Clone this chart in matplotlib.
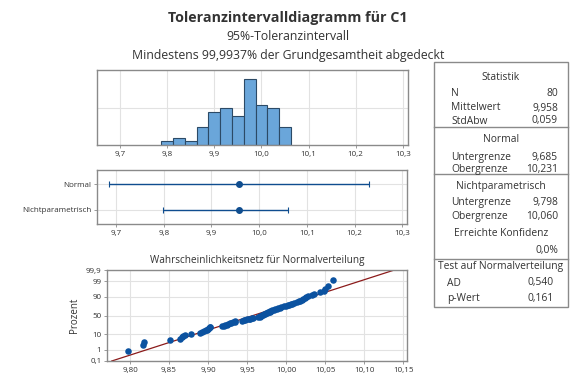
import statistics

import matplotlib
matplotlib.use("Agg")
import matplotlib.pyplot as plt
import numpy as np
from matplotlib.ticker import FuncFormatter

plt.rcParams['font.family'] = ['Open Sans', 'DejaVu Sans']

c1 = [9.798,
      9.817, 9.818,
      9.851,
      9.864, 9.866, 9.868, 9.871, 9.878,
      9.890, 9.892, 9.895, 9.897, 9.899, 9.900, 9.901, 9.902, 9.903,
      9.918, 9.920, 9.922, 9.924, 9.926, 9.928, 9.930, 9.932, 9.934, 9.935,
      9.944, 9.946, 9.948, 9.950, 9.952, 9.954, 9.956, 9.958,
      9.964, 9.966, 9.967, 9.968, 9.969, 9.970, 9.972, 9.973, 9.974,
      9.976, 9.977, 9.978, 9.979, 9.980, 9.981, 9.982, 9.984, 9.986,
      9.988, 9.990, 9.992, 9.994, 9.997, 10.000, 10.002, 10.004, 10.006, 10.008, 10.010,
      10.014, 10.016, 10.018, 10.020, 10.022, 10.024, 10.026, 10.028, 10.033, 10.036,
      10.043, 10.048, 10.050, 10.054, 10.060]

bin_edges = [9.7875 + 0.025 * k for k in range(12)]

interval_names = ["Normal", "Nichtparametrisch"]
interval_low = [9.685, 9.798]
interval_high = [10.231, 10.060]
interval_mean = [9.958, 9.958]

prob_ticks = [0.1, 1, 10, 50, 90, 99, 99.9]
prob_labels = ["0,1", "1", "10", "50", "90", "99", "99,9"]

# text of the statistics panel: (kind, left text, right text)
stats_rows = [
    ("head", "Statistik", ""),
    ("row", "N", "80"),
    ("row", "Mittelwert", "9,958"),
    ("last", "StdAbw", "0,059"),
    ("head", "Normal", ""),
    ("row", "Untergrenze", "9,685"),
    ("last", "Obergrenze", "10,231"),
    ("head", "Nichtparametrisch", ""),
    ("row", "Untergrenze", "9,798"),
    ("row", "Obergrenze", "10,060"),
    ("head", "Erreichte Konfidenz", ""),
    ("last", "", "0,0%"),
    ("head", "Test auf Normalverteilung", ""),
    ("row2", "AD", "0,540"),
    ("row2", "p-Wert", "0,161"),
]
stats_y = [78, 94, 108, 121, 139, 157, 169, 186, 202, 216, 234, 250, 267, 283, 299]
divider_y = [127, 174, 259]

W, H = 576, 384
TXT = "#333333"
GRID = "#e2e2e2"
FRAME = "#8a8a8a"


def px(l, t, r, b):
    return [l / W, 1 - b / H, (r - l) / W, (b - t) / H]


def comma(fmt):
    return FuncFormatter(lambda v, p: (fmt % v).replace(".", ","))


def style(ax):
    for s in ax.spines.values():
        s.set_color(FRAME)
        s.set_linewidth(1.0)
    ax.tick_params(colors=TXT, labelsize=5.8, length=2, width=0.6, pad=2)
    ax.tick_params(axis='both', color=FRAME)
    ax.set_axisbelow(True)


fig = plt.figure(figsize=(5.76, 3.84), dpi=100)

fig.text(288 / W, 1 - 18 / H, "Toleranzintervalldiagramm für C1", ha='center', va='center',
         fontsize=10.3, fontweight='bold', color=TXT)
fig.text(288 / W, 1 - 37 / H, "95%-Toleranzintervall", ha='center', va='center',
         fontsize=8.8, color=TXT)
fig.text(288 / W, 1 - 55 / H, "Mindestens 99,9937% der Grundgesamtheit abgedeckt",
         ha='center', va='center', fontsize=8.8, color=TXT)

# histogram
ax1 = fig.add_axes(px(97, 70, 408, 145))
ax1.hist(c1, bins=bin_edges, color="#6aa6da", edgecolor="#2c4a66", linewidth=0.8)
ax1.set_xlim(9.651, 10.311)
ax1.set_ylim(0, 20.4)
ax1.set_xticks([9.7, 9.8, 9.9, 10.0, 10.1, 10.2, 10.3])
ax1.xaxis.set_major_formatter(comma("%.1f"))
ax1.set_yticks([10])
ax1.set_yticklabels([])
ax1.grid(True, color=GRID, linewidth=0.8)
style(ax1)
ax1.tick_params(axis='y', length=0)

# tolerance intervals
ax2 = fig.add_axes(px(97, 170, 407, 224))
ypos = [1, 0]
for y, lo, hi, m in zip(ypos, interval_low, interval_high, interval_mean):
    ax2.errorbar([m], [y], xerr=[[m - lo], [hi - m]], fmt='o', color="#0f4d8f",
                 ms=4, capsize=2, elinewidth=1.0, capthick=0.8)
ax2.set_xlim(9.660, 10.310)
ax2.set_ylim(-0.54, 1.54)
ax2.set_xticks([9.7, 9.8, 9.9, 10.0, 10.1, 10.2, 10.3])
ax2.xaxis.set_major_formatter(comma("%.1f"))
ax2.set_yticks(ypos)
ax2.set_yticklabels(interval_names)
ax2.grid(True, color=GRID, linewidth=0.8)
style(ax2)

# normal probability plot
nd = statistics.NormalDist()
xs = np.sort(np.array(c1))
n = len(xs)
zs = [nd.inv_cdf((i - 0.3) / (n + 0.4)) for i in range(1, n + 1)]
mu = np.mean(xs)
sd = np.std(xs, ddof=1)
zlim = nd.inv_cdf(0.999)

ax3 = fig.add_axes(px(107, 270, 407, 361))
ax3.plot([mu - zlim * sd, mu + zlim * sd], [-zlim, zlim], color="#8b1a1a", linewidth=0.9)
ax3.scatter(xs, zs, s=22, color="#0b52a0", zorder=3, linewidths=0)
ax3.set_xlim(9.7705, 10.155)
ax3.set_ylim(-zlim, zlim)
ax3.set_xticks([9.80, 9.85, 9.90, 9.95, 10.00, 10.05, 10.10, 10.15])
ax3.xaxis.set_major_formatter(comma("%.2f"))
ax3.set_yticks([nd.inv_cdf(p / 100) for p in prob_ticks])
ax3.set_yticklabels(prob_labels)
ax3.set_ylabel("Prozent", fontsize=7, color=TXT, labelpad=4)
ax3.set_title("Wahrscheinlichkeitsnetz für Normalverteilung", fontsize=7.2, color=TXT, pad=5)
ax3.grid(True, color=GRID, linewidth=0.8)
style(ax3)

# statistics panel
box_l, box_r, box_t, box_b = 434, 568, 62, 307
fig.add_artist(plt.Rectangle((box_l / W, 1 - box_b / H), (box_r - box_l) / W,
                             (box_b - box_t) / H, fill=False, edgecolor=FRAME,
                             linewidth=1.0, transform=fig.transFigure))
for y in divider_y:
    fig.add_artist(plt.Line2D([box_l / W, box_r / W], [1 - y / H, 1 - y / H],
                              color=FRAME, linewidth=1.0, transform=fig.transFigure))
for (kind, left, right), y in zip(stats_rows, stats_y):
    yy = 1 - y / H
    if kind == "head":
        fig.text((box_l + box_r) / 2 / W, yy, left, ha='center', va='center',
                 fontsize=7.4, color=TXT)
        continue
    lx, rx = (447, 554) if kind == "row2" else (451, 558)
    fig.text(lx / W, yy, left, ha='left', va='center', fontsize=7.4, color=TXT)
    fig.text(rx / W, yy, right, ha='right', va='center', fontsize=7.4, color=TXT)

fig.savefig("out.png", dpi=100)
